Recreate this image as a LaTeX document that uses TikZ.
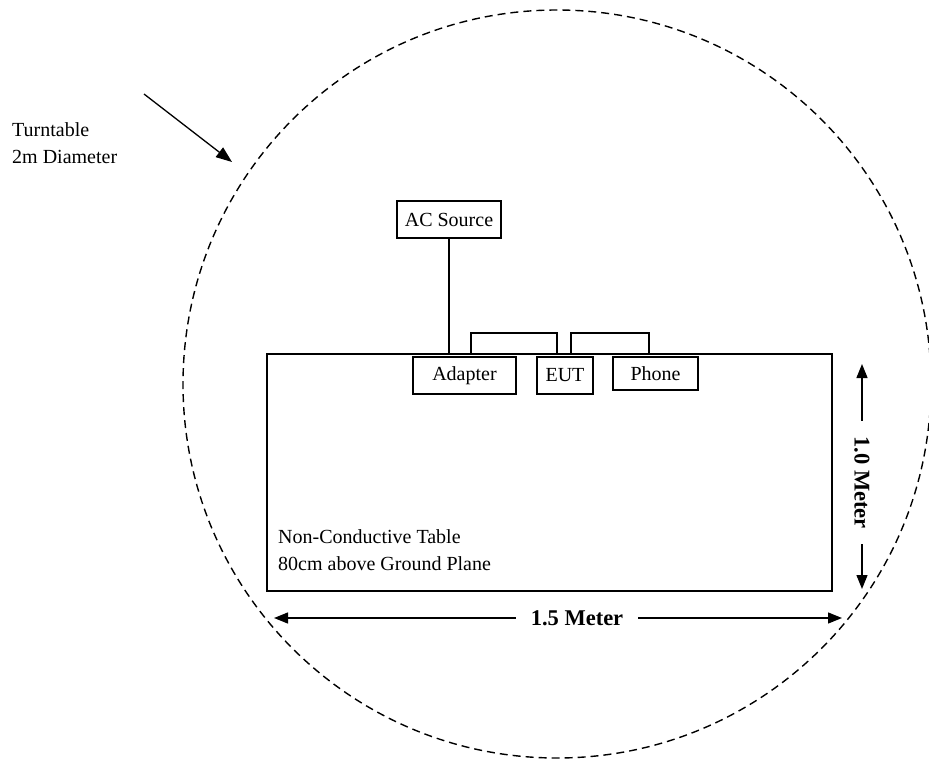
\documentclass[tikz,border=0pt]{standalone}
\usepackage{fontspec}
\setmainfont{Liberation Serif}
\usetikzlibrary{arrows.meta, calc, positioning}

\begin{document}
\begin{tikzpicture}[
 x=1pt, y=-1pt,
 font=\fontsize{20}{27}\selectfont,
 unit/.style={draw, line width=1.2pt, inner sep=0pt},
 wire/.style={line width=1.5pt},
 dimarrow/.style={line width=1.3pt, {Stealth[length=14pt,width=11pt,inset=0pt]}-{Stealth[length=14pt,width=11pt,inset=0pt]}},
 dimlabel/.style={fill=white, font=\fontsize{22.5}{26}\selectfont\bfseries, inner ysep=5pt, inner xsep=15pt},
 ]
 \useasboundingbox (0,0) rectangle (929,762);
 % turntable
 \draw[dash pattern=on 8pt off 5pt, line width=1.4pt] (557,384) circle [radius=374];
 \node[anchor=west, align=left, inner sep=0pt] (turnlabel) at (12,143.5)
 {Turntable\\2m Diameter};
 \coordinate (turnfrom) at (144,94);
 \coordinate (turnto) at (232,162);
 \draw[line width=1.3pt, -{Stealth[length=16pt,width=12pt,inset=0pt]}] (turnfrom) -- (turnto);

 % table
 \node[draw, line width=2pt, minimum width=565pt, minimum height=237pt] (table) at (549.5,472.5) {};
 \node[anchor=west, align=left, inner sep=0pt] (tablelabel) at (278,550.5)
 {Non-Conductive Table\\80cm above Ground Plane};

 \node[unit, minimum width=104pt, minimum height=37pt] (ac) at (449,219.5) {AC Source};
 \node[unit, minimum width=103pt, minimum height=37pt] (adapter) at (464.5,375.5) {Adapter};
 \node[unit, minimum width=56pt, minimum height=37pt] (eut) at (565,375.5) {EUT};
 \node[unit, minimum width=85pt, minimum height=33pt] (phone) at (655.5,373.5) {Phone};

 \draw[wire] (ac) -- (ac.south |- table.north);
 \draw[wire] ([xshift=6.5pt]adapter.north |- table.north) -- ++(0,-20) -| ([xshift=-8pt]eut.north |- table.north);
 \draw[wire] ([xshift=6pt]eut.north |- table.north) -- ++(0,-20) -| ([xshift=-6.5pt]phone.north |- table.north);

 % dimensions
 \coordinate (hleft) at (274,618);
 \coordinate (hright) at (842,618);
 \draw[dimarrow] (hleft) -- node[dimlabel, xshift=19pt] (hlabel) {1.5 Meter} (hright);
 \coordinate (vtop) at (862,364);
 \coordinate (vbottom) at (862,589);
 \draw[dimarrow] (vtop) -- node[dimlabel, rotate=-90, xshift=6pt] (vlabel) {1.0 Meter} (vbottom);
\end{tikzpicture}
\end{document}
